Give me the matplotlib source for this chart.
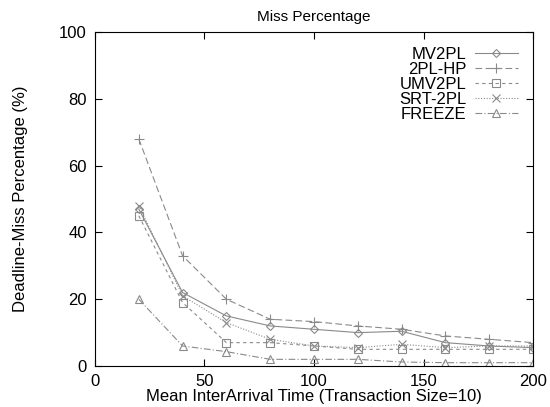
import matplotlib
matplotlib.use("Agg")
import matplotlib.pyplot as plt

plt.rcParams['font.family'] = ['Liberation Sans', 'DejaVu Sans']

x = [20, 40, 60, 80, 100, 120, 140, 160, 180, 200]
mv2pl = [47, 22, 15, 12, 11, 10, 10.4, 7, 6, 5.5]
hp2pl = [68, 33, 20, 14, 13.3, 12, 11, 9, 8, 7]
umv2pl = [45, 19, 7, 7, 6, 5, 5, 5, 5, 5]
srt2pl = [48, 21, 13, 8, 6, 5.5, 6.5, 5.5, 6, 6]
freeze = [20, 6, 4.3, 2, 2, 2, 1.2, 1, 1, 1]

names = ["MV2PL", "2PL-HP", "UMV2PL", "SRT-2PL", "FREEZE"]
series = [mv2pl, hp2pl, umv2pl, srt2pl, freeze]
markers = ["D", "+", "s", "x", "^"]
styles = ["-", (0, (6, 3)), (0, (3, 3)), (0, (1, 1.5)), (0, (6, 2, 1, 2))]
sizes = [4, 7, 5.5, 5.5, 5.5]

fig = plt.figure(figsize=(5.5, 4.07), dpi=100)
ax = fig.add_axes([0.1727, 0.1007, 0.7964, 0.8206])

for name, y, m, ls, ms in zip(names, series, markers, styles, sizes):
    ax.plot(x, y, color="#8a8a8a", linestyle=ls, linewidth=0.8, marker=m,
            markersize=ms, markerfacecolor="none", markeredgecolor="#8a8a8a",
            markeredgewidth=0.8, label=name)

ax.set_xlim(0, 200)
ax.set_ylim(0, 100)
ax.set_xticks([0, 50, 100, 150, 200])
ax.set_yticks([0, 20, 40, 60, 80, 100])
ax.tick_params(direction="in", top=True, right=True, labelsize=12, length=5, pad=6)
ax.set_title("Miss Percentage", fontsize=11, pad=8)
ax.set_xlabel("Mean InterArrival Time (Transaction Size=10)", fontsize=12, labelpad=0)
ax.set_ylabel("Deadline-Miss Percentage (%)", fontsize=12, labelpad=22)

ax.legend(loc="upper right", frameon=False, markerfirst=False, fontsize=12,
          handlelength=2.6, labelspacing=0.0, borderaxespad=0.5, handletextpad=0.5)

fig.savefig("out.png", dpi=100)
